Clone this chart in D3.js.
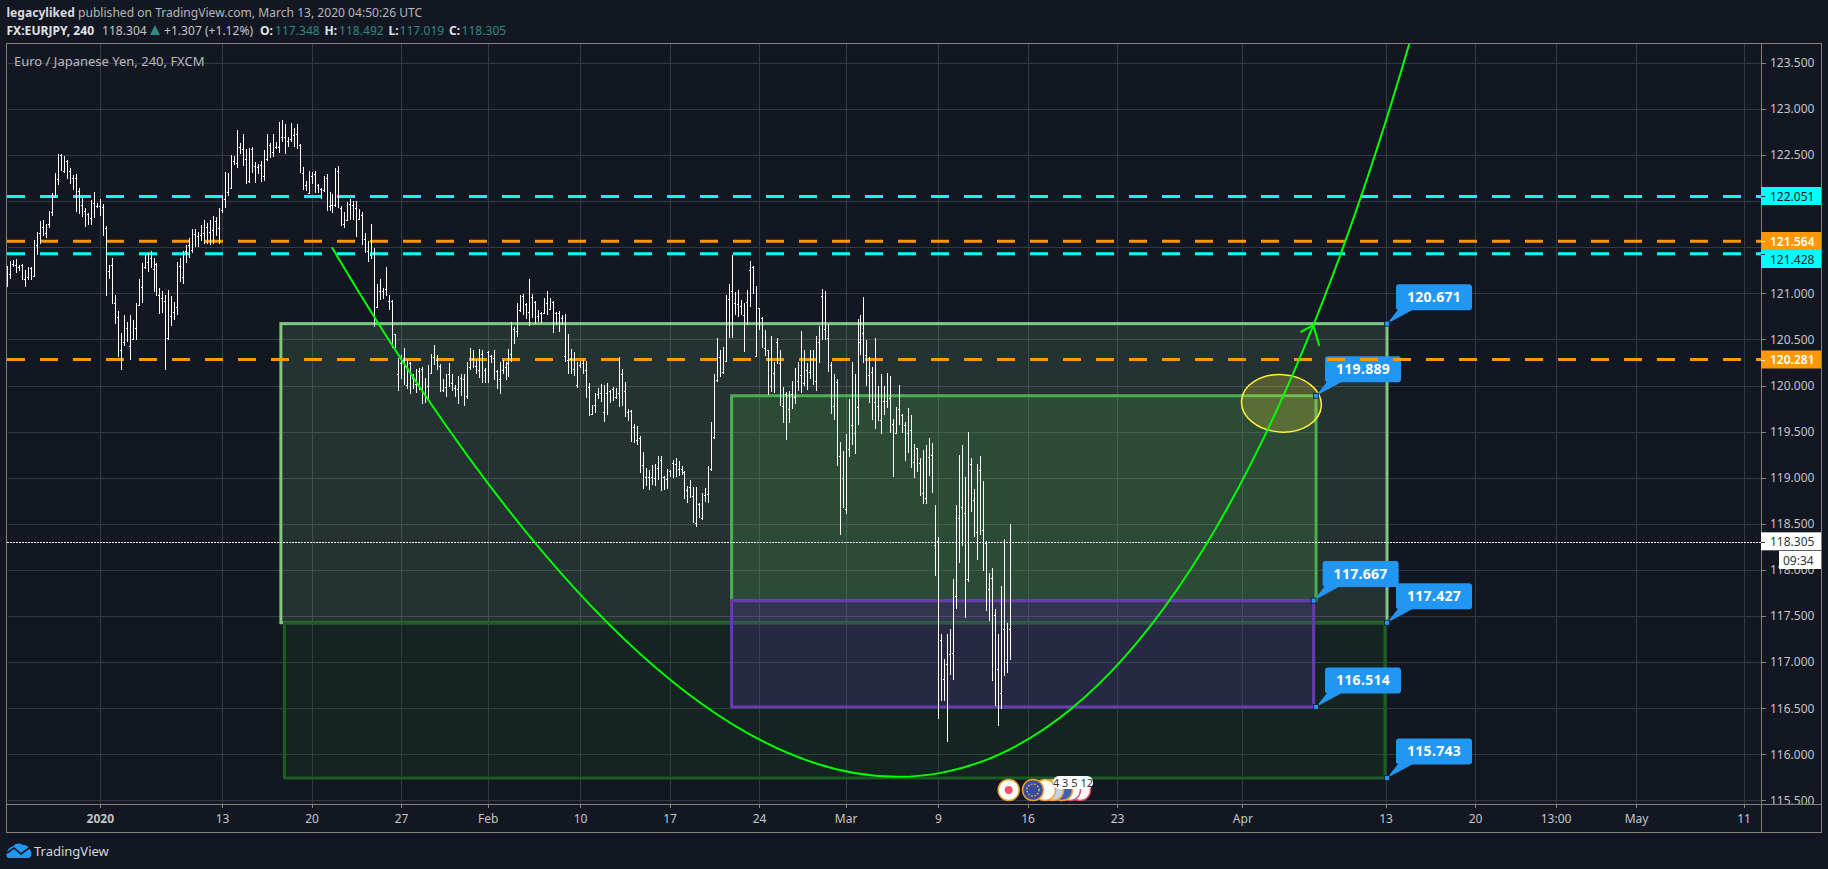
<!DOCTYPE html>
<html><head><meta charset="utf-8">
<script src="https://cdn.jsdelivr.net/npm/d3@7/dist/d3.min.js"></script>
<style>html,body{margin:0;padding:0;background:#131722;overflow:hidden}svg{display:block}text{font-family:"Noto Sans",sans-serif}</style>
</head><body><div id="chart"></div>
<script>
// --- DATA ---------------------------------------------------------------
const barHigh=[121.30,121.35,121.36,121.37,121.31,121.32,121.25,121.28,121.28,121.58,
121.67,121.78,121.79,121.75,121.89,122.09,122.30,122.51,122.51,122.49,
122.45,122.36,122.28,122.29,122.14,122.03,121.92,121.87,122.01,122.10,
121.98,122.02,121.97,121.73,121.31,121.38,120.98,120.81,120.57,120.76,
120.69,120.76,120.71,120.89,121.15,121.33,121.41,121.44,121.46,121.38,
121.33,121.06,121.02,120.98,121.04,120.97,120.91,121.34,121.38,121.46,
121.52,121.60,121.70,121.70,121.67,121.74,121.79,121.76,121.79,121.84,
121.83,121.92,122.06,122.32,122.30,122.50,122.49,122.77,122.63,122.73,
122.56,122.58,122.59,122.42,122.40,122.44,122.55,122.73,122.63,122.73,
122.64,122.86,122.88,122.84,122.69,122.85,122.79,122.84,122.62,122.37,
122.22,122.33,122.32,122.33,122.19,122.14,122.27,122.29,122.10,122.08,
122.36,122.38,121.95,121.88,121.99,122.02,122.00,122.00,121.91,121.88,
121.65,121.57,121.75,121.49,121.10,121.15,121.06,121.28,120.98,120.93,
120.56,120.30,120.33,120.41,120.29,120.26,120.13,120.18,120.19,120.20,
120.08,120.22,120.34,120.44,120.33,120.23,120.07,120.13,120.24,120.12,
120.01,120.10,120.12,120.13,120.26,120.41,120.39,120.29,120.40,120.39,
120.19,120.37,120.33,120.38,120.17,120.25,120.28,120.26,120.40,120.69,
120.63,120.89,120.98,120.99,120.89,121.15,120.99,120.92,120.82,120.80,
120.95,121.02,120.95,120.92,120.80,120.81,120.77,120.78,120.56,120.40,
120.36,120.26,120.27,120.28,120.27,120.03,119.79,119.92,119.97,120.02,
120.01,120.03,119.95,119.98,119.97,120.31,120.18,120.04,119.74,119.73,
119.58,119.56,119.45,119.28,119.11,119.08,119.14,119.15,119.23,119.24,
119.02,119.09,119.08,119.19,119.21,119.18,119.13,119.07,118.91,118.98,
118.90,118.90,118.73,118.83,118.89,119.13,119.60,120.13,120.51,120.38,
120.42,120.98,121.10,121.41,121.01,121.04,120.93,120.90,121.04,121.35,
121.30,121.08,120.84,120.74,120.60,120.39,120.54,120.26,120.52,120.38,
119.98,119.93,119.94,120.05,120.19,120.25,120.59,120.38,120.24,120.39,
120.38,120.54,120.64,121.05,121.03,120.67,120.26,120.12,120.07,119.39,
119.29,119.47,119.85,120.26,120.12,120.72,120.76,120.96,120.49,120.31,
120.20,120.51,119.99,120.12,120.00,120.14,120.10,119.64,119.77,120.01,
119.69,119.60,119.76,119.68,119.37,119.32,119.21,119.30,119.36,119.43,
119.38,118.70,118.36,117.30,117.03,117.30,117.36,117.90,118.70,119.25,
119.36,119.01,119.50,119.21,118.88,119.15,119.24,118.96,118.31,117.97,
118.02,117.58,117.31,117.82,118.34,117.42,118.50];
const barLow=[121.07,121.16,121.29,121.22,121.24,121.14,121.07,121.14,121.14,121.18,
121.41,121.54,121.62,121.60,121.71,121.84,122.03,122.18,122.33,122.31,
122.24,122.19,122.12,121.88,121.86,121.83,121.72,121.74,121.74,121.82,
121.93,121.84,121.62,120.97,121.15,120.88,120.67,120.31,120.17,120.43,
120.47,120.28,120.49,120.49,120.87,120.89,121.26,121.23,121.27,121.01,
120.97,120.78,120.79,120.17,120.49,120.65,120.71,120.76,121.12,121.10,
121.33,121.38,121.44,121.50,121.50,121.57,121.54,121.54,121.52,121.54,
121.62,121.53,121.87,121.92,122.06,122.13,122.39,122.36,122.51,122.38,
122.19,122.20,122.31,122.20,122.29,122.21,122.22,122.44,122.47,122.48,
122.57,122.52,122.64,122.51,122.59,122.64,122.59,122.56,122.30,122.12,
122.11,122.09,122.19,122.09,122.09,122.02,122.10,121.89,121.89,121.87,
121.94,121.92,121.73,121.71,121.79,121.80,121.80,121.61,121.79,121.52,
121.44,121.34,121.37,120.63,120.84,120.93,120.94,120.97,120.82,120.41,
120.41,119.94,120.07,120.01,119.96,119.91,119.96,119.92,119.95,119.80,
119.81,119.83,120.13,120.22,120.17,119.93,119.93,119.88,119.98,119.94,
119.88,119.80,119.89,119.78,119.85,120.17,120.19,120.13,120.08,120.03,
120.03,120.03,120.24,120.06,119.96,119.91,120.13,120.06,120.09,120.26,
120.45,120.53,120.80,120.77,120.72,120.65,120.73,120.67,120.69,120.68,
120.79,120.77,120.82,120.57,120.66,120.58,120.66,120.26,120.12,120.13,
120.10,119.97,120.19,120.13,119.86,119.67,119.68,119.70,119.85,119.82,
119.60,119.68,119.81,119.83,119.85,119.77,119.78,119.66,119.61,119.39,
119.38,119.35,119.05,118.88,118.91,118.87,118.92,118.91,118.97,118.86,
118.87,118.88,119.01,119.00,119.01,119.02,119.03,118.77,118.73,118.78,
118.51,118.46,118.56,118.54,118.74,118.73,119.07,119.42,120.04,120.09,
120.13,120.26,120.52,120.52,120.76,120.74,120.76,120.36,120.66,120.85,
120.99,120.32,120.60,120.41,120.32,119.90,119.93,119.92,120.23,119.78,
119.59,119.41,119.59,119.75,119.80,119.94,119.92,119.99,119.95,120.07,
120.01,119.94,120.24,120.49,120.49,120.15,119.69,119.63,119.13,118.38,
118.67,118.61,119.22,119.35,119.26,119.57,120.33,120.24,120.00,119.81,
119.63,119.53,119.61,119.47,119.68,119.76,119.49,119.01,119.49,119.57,
119.49,119.18,119.27,119.10,119.00,119.06,118.80,118.72,118.72,119.02,
118.83,117.93,116.38,116.58,116.58,116.13,116.86,116.81,117.58,118.08,
118.26,117.48,117.87,118.63,118.36,118.11,118.38,117.99,117.55,117.45,
116.80,116.52,116.31,116.49,116.85,116.88,117.02];
const barTick=[121.18,121.21,121.32,121.31,121.28,121.31,121.15,121.18,121.27,121.19,
121.52,121.65,121.72,121.65,121.75,121.88,122.04,122.24,122.50,122.33,
122.44,122.33,122.25,122.25,122.11,121.96,121.89,121.86,121.82,121.98,
121.95,121.95,121.94,121.71,121.24,121.31,120.90,120.74,120.39,120.47,
120.62,120.43,120.50,120.62,120.87,121.07,121.29,121.34,121.38,121.26,
121.32,120.98,120.95,120.92,120.52,120.75,120.80,120.85,121.30,121.18,
121.46,121.52,121.47,121.64,121.62,121.63,121.65,121.72,121.67,121.69,
121.78,121.71,121.90,122.02,122.10,122.14,122.44,122.41,122.59,122.57,
122.46,122.22,122.56,122.38,122.37,122.39,122.27,122.46,122.61,122.53,
122.59,122.59,122.69,122.69,122.65,122.67,122.72,122.73,122.61,122.31,
122.17,122.09,122.27,122.29,122.17,122.13,122.12,122.25,121.95,121.96,
121.96,122.33,121.93,121.75,121.80,121.97,121.96,121.93,121.81,121.85,
121.59,121.46,121.42,121.44,120.85,121.03,121.02,121.05,120.92,120.92,
120.56,120.13,120.24,120.28,120.01,120.24,120.08,120.02,120.16,120.18,
119.90,120.00,120.14,120.31,120.28,120.21,119.95,119.98,120.13,120.03,
119.97,119.96,120.08,120.07,119.89,120.20,120.29,120.21,120.17,120.34,
120.17,120.36,120.32,120.30,120.16,120.07,120.17,120.20,120.24,120.34,
120.61,120.59,120.82,120.97,120.88,120.80,120.96,120.91,120.75,120.79,
120.79,120.90,120.83,120.91,120.79,120.79,120.73,120.32,120.28,120.29,
120.18,120.01,120.22,120.24,120.17,119.98,119.69,119.79,119.91,119.92,
119.71,119.92,119.94,119.96,119.87,119.92,120.12,119.94,119.71,119.72,
119.55,119.41,119.43,119.14,119.01,119.01,119.01,119.00,119.10,119.19,
119.01,118.99,119.07,119.16,119.15,119.09,119.09,119.06,118.87,118.90,
118.80,118.51,118.72,118.56,118.81,118.82,119.09,119.44,120.06,120.31,
120.15,120.27,120.94,121.03,120.90,120.88,120.86,120.76,120.91,121.25,
121.29,120.32,120.84,120.73,120.41,120.38,119.99,120.14,120.47,120.24,
119.78,119.91,119.74,119.91,119.87,120.05,120.11,120.03,120.17,120.15,
120.29,120.05,120.47,120.97,120.61,120.52,120.22,119.78,120.04,119.24,
119.00,118.66,119.31,119.57,119.48,119.77,120.47,120.57,120.33,120.11,
120.15,119.82,119.78,119.63,119.83,119.83,119.86,119.58,119.49,119.74,
119.68,119.57,119.49,119.52,119.17,119.32,119.16,118.83,118.78,119.22,
119.25,118.27,118.31,117.24,116.82,116.98,117.09,117.10,117.72,118.56,
118.68,118.62,117.90,119.15,118.76,118.41,119.08,118.43,118.29,117.79,
117.91,117.51,116.92,116.67,117.36,117.00,117.36];

const priceTicks=[115.5,116,116.5,117,117.5,118,118.5,119,119.5,120,120.5,121,121.5,122,122.5,123,123.5];
const timeTickBars=[31,72,102,132,161,192,222,252,281,312,342,372,414,462,492,519,546,582];
const timeTickLabels=["2020","13","20","27","Feb","10","17","24","Mar","9","16","23","Apr","13","20","13:00","May","11"];

const cyanLevels=[122.051,121.428];
const orangeLevels=[121.564,120.281];
const lastPrice=118.305;

const boxNames=["outer","lower","middle","purple"];
const boxBarFrom=[91.7,92.9,242.8,242.8];
const boxBarTo=[462.5,461.8,438.7,437.9];
const boxTop=[120.671,117.427,119.889,117.667];
const boxBottom=[117.427,115.743,117.667,116.514];
const boxStroke=["#81c784","#1b5e20","#4caf50","#673ab7"];
const boxFill=["rgba(129,199,132,.16)","rgba(27,94,32,.2)","rgba(76,175,80,.2)","rgba(103,58,183,.22)"];

const calloutBar=[462.5,438.7,437.9,462.5,438.7,462.5];
const calloutPrice=[120.671,119.889,117.667,117.427,116.514,115.743];

// anchor, control and end points of the drawn curve (bar index, price)
const curveBar=[108.8,337.9,470.8];
const curvePrice=[121.499,108.959,123.799];
const arrowBar=[433.5,437.8,439.8];
const arrowPrice=[120.58,120.656,120.43];

const ellipseBar=427.1, ellipsePrice=119.806;

// --- SCALES -------------------------------------------------------------
const W=1828,H=869;
const paneL=6.5,paneR=1761,paneEdge=1821,paneT=43.5,paneB=804,axisB=832;
const xs=d3.scaleLinear().domain([0,582]).range([7.33,1743.5]);
const ys=d3.scaleLinear().domain([115.5,123.5]).range([800.4,62.8]);
const bg="#131722", frameC="#82827c", gridC="#363a45", axisText="#c4c5c8";

const svg=d3.select("#chart").append("svg").attr("width",W).attr("height",H);
svg.append("rect").attr("width",W).attr("height",H).attr("fill",bg);
const defs=svg.append("defs");
defs.append("clipPath").attr("id","pane").append("rect").attr("x",paneL).attr("y",paneT).attr("width",paneR-paneL).attr("height",paneB-paneT);
defs.append("clipPath").attr("id","paxis").append("rect").attr("x",paneR).attr("y",paneT).attr("width",paneEdge-paneR).attr("height",paneB-paneT);

// grid
const crisp=v=>Math.round(v)+.5;
const grid=svg.append("g").attr("shape-rendering","crispEdges");
grid.selectAll(".h").data(priceTicks).join("line").attr("class","h").attr("x1",paneL+1).attr("x2",paneR).attr("y1",d=>crisp(ys(d))).attr("y2",d=>crisp(ys(d))).attr("stroke",gridC);
grid.selectAll(".v").data(timeTickBars).join("line").attr("class","v").attr("y1",paneT).attr("y2",paneB).attr("x1",d=>crisp(xs(d))).attr("x2",d=>crisp(xs(d))).attr("stroke",gridC);

const pane=svg.append("g").attr("clip-path","url(#pane)");
// boxes
pane.append("g").selectAll("rect").data(boxNames).join("rect")
 .attr("x",(d,i)=>xs(boxBarFrom[i])).attr("width",(d,i)=>xs(boxBarTo[i])-xs(boxBarFrom[i]))
 .attr("y",(d,i)=>ys(boxTop[i])).attr("height",(d,i)=>ys(boxBottom[i])-ys(boxTop[i]))
 .attr("fill",(d,i)=>boxFill[i]).attr("stroke",(d,i)=>boxStroke[i]).attr("stroke-width",3);

// ellipse
pane.append("ellipse").attr("cx",xs(ellipseBar)).attr("cy",ys(ellipsePrice)).attr("rx",40).attr("ry",28.7)
 .attr("transform",`rotate(4 ${xs(ellipseBar)} ${ys(ellipsePrice)})`)
 .attr("fill","rgba(255,235,59,.22)").attr("stroke","#fff03b").attr("stroke-width",1.5);

// callouts
const calls=pane.append("g").selectAll("g").data(calloutPrice).join("g")
 .attr("transform",(d,i)=>`translate(${xs(calloutBar[i])},${ys(d)})`);
calls.append("path").attr("d","M0,0L11,-14L26,-14Z").attr("fill","#2196f3");
calls.append("rect").attr("x",9).attr("y",-39.5).attr("width",76).attr("height",26).attr("rx",3).attr("fill","#2196f3");
calls.append("rect").attr("x",-2.5).attr("y",-2.5).attr("width",5).attr("height",5).attr("fill","#2196f3").attr("stroke","#131722").attr("stroke-width",.8);
calls.append("text").attr("x",47).attr("y",-21.5).attr("text-anchor","middle").attr("fill","#fff").attr("font-size",14).attr("font-weight",700).attr("letter-spacing",.3).text(d=>d.toFixed(3));

// dashed levels
pane.append("g").selectAll("line").data(cyanLevels.concat(orangeLevels)).join("line")
 .attr("x1",paneL+.5).attr("x2",paneR).attr("y1",d=>ys(d)).attr("y2",d=>ys(d))
 .attr("stroke",d=>cyanLevels.includes(d)?"#00ffff":"#ff9800").attr("stroke-width",3).attr("stroke-dasharray","18 15");

// last-price line
pane.append("line").attr("x1",paneL).attr("x2",paneR).attr("y1",crisp(ys(lastPrice))).attr("y2",crisp(ys(lastPrice)))
 .attr("stroke","#fff").attr("stroke-dasharray","2 1").attr("shape-rendering","crispEdges");

// bars
const bars=pane.append("g").attr("shape-rendering","crispEdges").attr("stroke","#fff");
bars.selectAll(".bar").data(barHigh).join("line").attr("class","bar")
 .attr("x1",(d,i)=>crisp(xs(i))).attr("x2",(d,i)=>crisp(xs(i))).attr("y1",d=>Math.round(ys(d))).attr("y2",(d,i)=>Math.round(ys(barLow[i])));
bars.selectAll(".tk").data(barTick).join("line").attr("class","tk")
 .attr("x1",(d,i)=>crisp(xs(i))-2).attr("x2",(d,i)=>crisp(xs(i))).attr("y1",d=>crisp(ys(d))).attr("y2",d=>crisp(ys(d)));

// curve
const curvePath=d3.path();
curvePath.moveTo(xs(curveBar[0]),ys(curvePrice[0]));
curvePath.quadraticCurveTo(xs(curveBar[1]),ys(curvePrice[1]),xs(curveBar[2]),ys(curvePrice[2]));
pane.append("path").attr("d",curvePath.toString()).attr("fill","none").attr("stroke","#00ff00").attr("stroke-width",2);
const arrowGen=d3.line().x((d,i)=>xs(arrowBar[i])).y(d=>ys(d));
pane.append("path").attr("d",arrowGen(arrowPrice)).attr("fill","none").attr("stroke","#00ff00").attr("stroke-width",2);

// frame
const fr=svg.append("g").attr("shape-rendering","crispEdges").attr("stroke",frameC).attr("fill","none");
fr.append("rect").attr("x",paneL).attr("y",paneT).attr("width",paneEdge-paneL).attr("height",axisB-paneT);
fr.append("line").attr("x1",paneL).attr("x2",paneEdge).attr("y1",paneB).attr("y2",paneB);
fr.append("line").attr("x1",paneR).attr("x2",paneR).attr("y1",paneT).attr("y2",axisB);

// price axis
const pa=svg.append("g").attr("clip-path","url(#paxis)").append("g").attr("transform",`translate(${paneR},0)`)
 .call(d3.axisRight(ys).tickValues(priceTicks).tickFormat(d3.format(".3f")).tickSize(5).tickPadding(4));
pa.select(".domain").remove();
pa.selectAll("line").attr("stroke",frameC).attr("shape-rendering","crispEdges");
pa.selectAll("text").attr("fill",axisText).attr("font-size",12).attr("font-family",'"Noto Sans",sans-serif');

// time axis
const ta=svg.append("g").attr("transform",`translate(0,${paneB})`)
 .call(d3.axisBottom(xs).tickValues(timeTickBars).tickFormat((d,i)=>timeTickLabels[i]).tickSize(4).tickPadding(6));
ta.select(".domain").remove();
ta.selectAll("line").attr("stroke",frameC).attr("shape-rendering","crispEdges");
ta.selectAll("text").attr("fill",axisText).attr("font-size",12).attr("font-family",'"Noto Sans",sans-serif');
ta.selectAll("text").filter((d,i)=>timeTickLabels[i]==="2020").attr("font-weight",700);

// price labels
const tagList=[[122.051,"#00ffff","#131722",196],[121.564,"#ff9800","#fff",241],[121.428,"#00ffff","#131722",259],[120.281,"#ff9800","#fff",359.5],[118.305,"#fff","#333",541.3]];
const tags=svg.append("g").selectAll("g").data(tagList).join("g");
tags.append("rect").attr("x",paneR).attr("width",paneEdge-paneR).attr("y",d=>d[3]-9).attr("height",18).attr("fill",d=>d[1]);
tags.append("line").attr("x1",paneR).attr("x2",paneR+4).attr("y1",d=>crisp(ys(d[0]))).attr("y2",d=>crisp(ys(d[0]))).attr("stroke",d=>d[2]).attr("shape-rendering","crispEdges");
tags.append("text").attr("x",paneR+9).attr("y",d=>d[3]+4.5).attr("font-size",12).attr("fill",d=>d[2]).attr("font-weight",d=>d[1]==="#ff9800"?600:400).text(d=>d[0].toFixed(3));
svg.append("rect").attr("x",1779).attr("y",551).attr("width",42).attr("height",18).attr("fill","#fff");
svg.append("text").attr("x",1783).attr("y",564.5).attr("font-size",12).attr("fill","#333").text("09:34");

// event icons
const ev=svg.append("g");
const eventX=[1008.7,1033,1045,1053,1062,1070,1080];
const eventFill=["#fff","#3a4a9c","#fff","#c9d0e8","#3f5fb0","#fff","#fff"];
const eventRing=["#f0a030","#f0a030","#f0a030","#f0a030","#f0a030","#e0506a","#e0506a"];
ev.selectAll("circle").data(eventX.slice().reverse()).join("circle").attr("cx",d=>d).attr("cy",790).attr("r",10.5)
 .attr("fill",(d,i)=>eventFill[6-i]).attr("stroke",(d,i)=>eventRing[6-i]).attr("stroke-width",1.5);
ev.append("circle").attr("cx",1008.7).attr("cy",790).attr("r",4).attr("fill","#f0506a");
ev.append("circle").attr("cx",1033).attr("cy",790).attr("r",6).attr("fill","none").attr("stroke","#e8c840").attr("stroke-width",1.4).attr("stroke-dasharray","1.4 1.8");
ev.append("rect").attr("x",1053).attr("y",776).attr("width",40).attr("height",13).attr("rx",6).attr("fill","#fff");
ev.append("text").attr("x",1073).attr("y",786.5).attr("text-anchor","middle").attr("font-size",11).attr("fill","#333").text("4 3 5 12");

// header (narrowed to the reference's condensed letter widths)
const squeeze=.93;
const header=svg.append("g").attr("font-size",13).attr("fill","#d8d9dc").attr("transform",`scale(${squeeze},1)`);
const h1=header.append("text").attr("x",6.5/squeeze).attr("y",17);
h1.append("tspan").attr("font-weight",700).text("legacyliked");
h1.append("tspan").attr("fill","#b5b7bb").text(" published on TradingView.com, March 13, 2020 04:50:26 UTC");
const legendX=[6.5,102,164,260,275,324.5,339,388.5,399.5,449,461.5];
const legendT=["FX:EURJPY, 240","118.304","+1.307 (+1.12%)","O:","117.348","H:","118.492","L:","117.019","C:","118.305"];
const legendC=["#e0e1e4","#c4c5c8","#c4c5c8","#e0e1e4","#2a8c82","#e0e1e4","#2a8c82","#e0e1e4","#2a8c82","#e0e1e4","#2a8c82"];
const legendB=[700,400,400,700,400,700,400,700,400,700,400];
header.selectAll(".lg").data(legendT).join("text").attr("class","lg").attr("x",(d,i)=>legendX[i]/squeeze).attr("y",35)
 .attr("fill",(d,i)=>legendC[i]).attr("font-weight",(d,i)=>legendB[i]).text(d=>d);
svg.append("path").attr("d","M150,35L155,25L160,35Z").attr("fill","#2a8c82");
svg.append("text").attr("x",14).attr("y",65.5).attr("font-size",13).attr("fill","#b8babf").text("Euro / Japanese Yen, 240, FXCM");

// logo
svg.append("path").attr("d","M6.5,857 C6,851 9,847 13,846.5 C15,843 20,842.5 23,845 C27,844.5 29,847 29,849 C32,850 32.5,857 29,858 L9,858 Z").attr("fill","#2196f3");
svg.append("path").attr("d","M7,853 L14,848 L21,854 L29,848").attr("fill","none").attr("stroke","#131722").attr("stroke-width",1.6);
svg.append("text").attr("x",34).attr("y",855.5).attr("font-size",13).attr("fill","#d6d7da").text("TradingView");
</script></body></html>
